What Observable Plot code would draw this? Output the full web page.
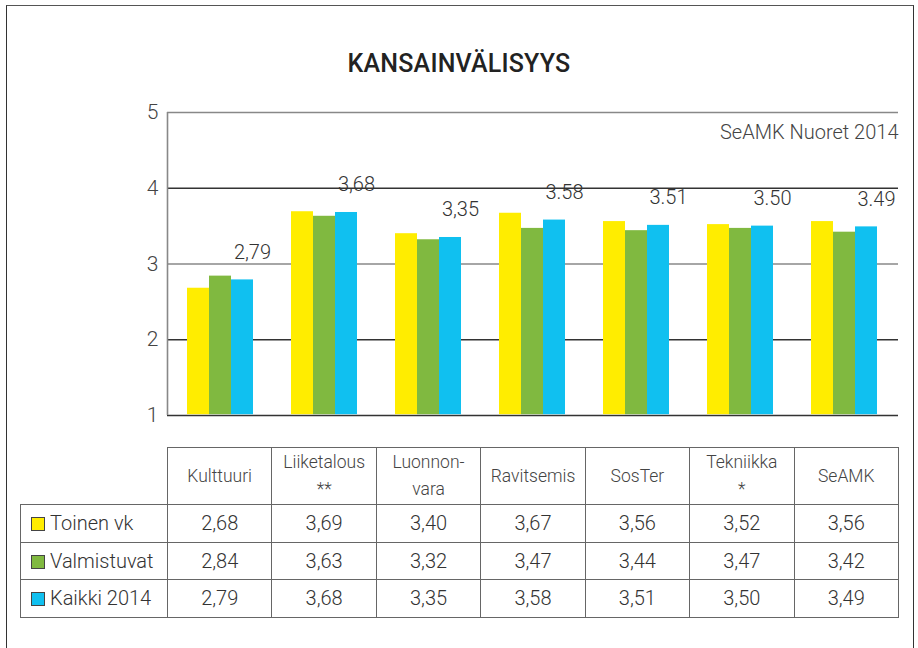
<!DOCTYPE html>
<html><head><meta charset="utf-8">
<script src="https://cdn.jsdelivr.net/npm/d3@7"></script>
<script src="https://cdn.jsdelivr.net/npm/@observablehq/plot@0.6"></script>
<style>
html,body{margin:0;padding:0;background:#fff;}
body{font-family:Roboto,"Noto Sans",sans-serif;}
#page{position:relative;width:918px;height:648px;overflow:hidden;background:#fff;}
#frame{position:absolute;left:6px;top:4.5px;width:906px;height:700px;border-top:1.3px solid #555;border-left:1.8px solid #333;border-right:1.8px solid #333;}
#title{position:absolute;top:51px;left:0;width:918px;text-align:center;font-size:25px;line-height:25px;font-weight:500;letter-spacing:0.2px;color:#222;}
.layer{position:absolute;left:0;top:90px;}
#tbl{position:absolute;left:20px;top:447px;}
table{border-collapse:collapse;table-layout:fixed;font-family:Roboto,sans-serif;color:#333;}
td,th{border:1.5px solid #666;padding:0;text-align:center;font-weight:300;}
th{font-size:17.5px;line-height:27px;color:#444;height:56px;}
th.blank{border-top:none;border-left:none;}
td{font-size:20px;height:36.5px;}
td.lab{text-align:left;padding-left:10px;white-space:nowrap;}
.sw{display:inline-block;width:12px;height:12px;border:1px solid #444;margin-right:5px;vertical-align:-1px;}
</style>
</head><body>
<div id="page">
  <div id="frame"></div>
  <div id="title"></div>
  <div id="bg" class="layer"></div>
  <div id="fg" class="layer"></div>
  <div id="tbl"></div>
</div>
<script>
const titleText = "KANSAINVÄLISYYS";
const subtitle = "SeAMK Nuoret 2014";
const categories = ["Kulttuuri","Liiketalous","Luonnonvara","Ravitsemis","SosTer","Tekniikka","SeAMK"];
const headerLabels = [["Kulttuuri"],["Liiketalous","**"],["Luonnon-","vara"],["Ravitsemis"],["SosTer"],["Tekniikka","*"],["SeAMK"]];
const series = ["Toinen vk","Valmistuvat","Kaikki 2014"];
const toinenVk = [2.68,3.69,3.40,3.67,3.56,3.52,3.56];
const valmistuvat = [2.84,3.63,3.32,3.47,3.44,3.47,3.42];
const kaikki2014 = [2.79,3.68,3.35,3.58,3.51,3.50,3.49];
const barLabels = ["2,79","3,68","3,35","3.58","3.51","3.50","3.49"];
const colors = ["#FFED00","#80B940","#10C0F0"];
const yTicks = [1,2,3,4,5];
const darkGrid = [1,2,4];
const lightGrid = [3,5];

const seriesValues = [toinenVk, valmistuvat, kaikki2014];
const rows = series.flatMap((s, j) => categories.map((c, i) => ({category: c, series: s, value: seriesValues[j][i]})));
const labelRows = categories.map((c, i) => ({category: c, series: series[2], value: kaikki2014[i], label: barLabels[i]}));

document.getElementById("title").textContent = titleText;

const W = 918, H = 345, mt = 22, mb = 20, ml = 167, mr = 20;

const bg = Plot.plot({
  width: W, height: H, marginTop: mt, marginBottom: mb, marginLeft: ml, marginRight: mr,
  style: {fontFamily: "Roboto, sans-serif", fontSize: "21px", fontWeight: 300, color: "#444", background: "transparent"},
  x: {domain: [0, 1], axis: null},
  y: {domain: [1, 5], ticks: yTicks, tickSize: 0, tickPadding: 9, label: null, tickFormat: d => String(d)},
  marks: [
    Plot.ruleY(lightGrid, {stroke: "#888", strokeWidth: 1.6}),
    Plot.ruleY(darkGrid, {stroke: "#333", strokeWidth: 1.6}),
    Plot.ruleX([0], {y1: () => 1, y2: () => 5, stroke: "#888", strokeWidth: 1.6}),
    Plot.text([subtitle], {frameAnchor: "top-right", text: d => d, dy: 26, lineAnchor: "bottom", textAnchor: "end", fontSize: 20, fill: "#444"})
  ]
});
document.getElementById("bg").appendChild(bg);

const fg = Plot.plot({
  width: W, height: H, marginTop: mt, marginBottom: mb, marginLeft: ml, marginRight: mr,
  style: {fontFamily: "Roboto, sans-serif", fontWeight: 300, background: "transparent"},
  fx: {domain: categories, paddingInner: 0.344, paddingOuter: 0.18, axis: null, label: null},
  x: {domain: series, padding: 0, axis: null},
  y: {domain: [1, 5], axis: null},
  color: {domain: series, range: colors},
  marks: [
    Plot.barY(rows, {fx: "category", x: "series", y1: () => 1, y2: "value", fill: "series", insetBottom: 0.8}),
    Plot.text(labelRows, {fx: "category", x: "series", y: "value", text: "label", dx: 10, dy: -21, lineAnchor: "bottom", fontSize: 20, fill: "#333"})
  ]
});
document.getElementById("fg").appendChild(fg);

// data table
const fmt = v => d3.format(".2f")(v).replace(".", ",");
const colW = (W - ml - mr) / categories.length;
let html = '<table><colgroup><col style="width:' + (ml - 20) + 'px">' + categories.map(() => '<col style="width:' + colW + 'px">').join("") + '</colgroup>';
html += '<tr><th class="blank"></th>' + headerLabels.map(l => '<th>' + l.join("<br>") + '</th>').join("") + '</tr>';
series.forEach((s, j) => {
  html += '<tr><td class="lab"><span class="sw" style="background:' + colors[j] + '"></span>' + s + '</td>' +
    seriesValues[j].map(v => '<td>' + fmt(v) + '</td>').join("") + '</tr>';
});
html += '</table>';
document.getElementById("tbl").innerHTML = html;
</script>
</body></html>
